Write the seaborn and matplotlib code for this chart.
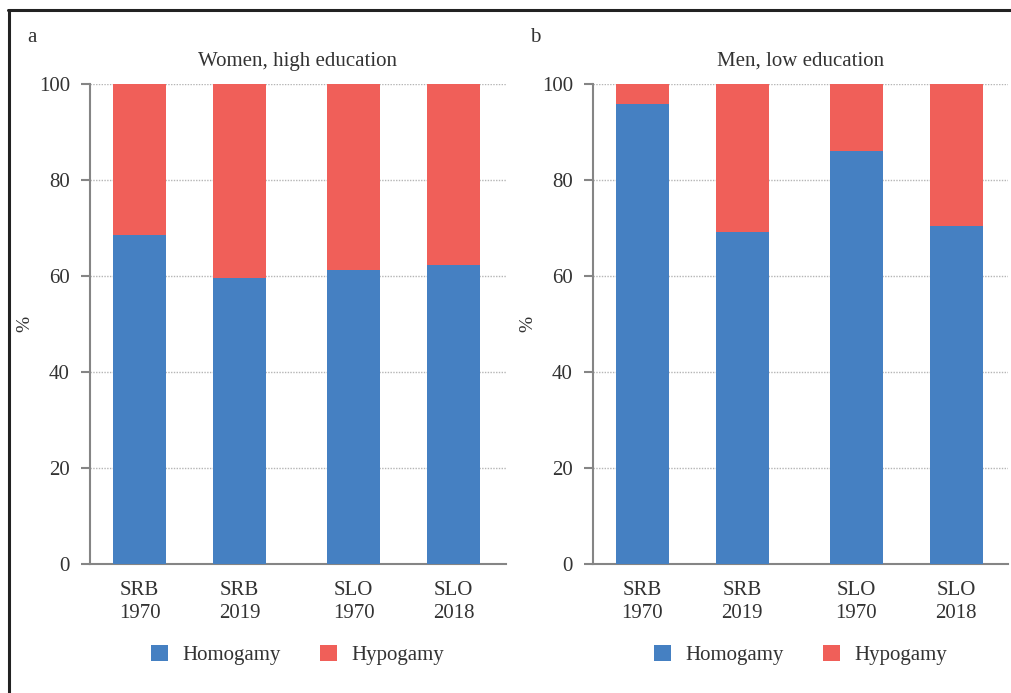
import matplotlib
matplotlib.use("Agg")
import matplotlib.pyplot as plt
from matplotlib.lines import Line2D
from matplotlib.patches import Patch
import pandas as pd
import seaborn as sns

# Groups: country / census year
groups = ["SRB\n1970", "SRB\n2019", "SLO\n1970", "SLO\n2018"]
# bar positions: a slightly wider gap separates the two countries
positions = [0.0, 1.0, 2.14, 3.14]

women_high_homogamy = [68.5, 59.6, 61.3, 62.3]
women_high_hypogamy = [31.5, 40.4, 38.7, 37.7]

men_low_homogamy = [95.9, 69.2, 86.0, 70.5]
men_low_hypogamy = [4.4, 31.1, 14.3, 29.5]

panel_titles = ["Women, high education", "Men, low education"]
panel_letters = ["a", "b"]
series_names = ["Homogamy", "Hypogamy"]
y_ticks = [0, 20, 40, 60, 80, 100]

BLUE = "#4580C2"
RED = "#F05F59"
TEXT = "#333333"
SPINE = "#858585"
FS = 15

sns.set_theme(style="white")
plt.rcParams["font.family"] = ["Liberation Serif", "DejaVu Serif"]
plt.rcParams["text.color"] = TEXT
plt.rcParams["axes.labelcolor"] = TEXT
plt.rcParams["xtick.color"] = TEXT
plt.rcParams["ytick.color"] = TEXT

fig = plt.figure(figsize=(10.11, 6.93), dpi=100)
W, H = 1011, 693

def px_axes(x0, x1, ytop, ybot):
    return fig.add_axes([x0 / W, 1 - ybot / H, (x1 - x0) / W, (ybot - ytop) / H])

ax_a = px_axes(90, 505.5, 84, 564)
ax_b = px_axes(593, 1008, 84, 564)

panels = [
    (ax_a, women_high_homogamy, women_high_hypogamy, 90),
    (ax_b, men_low_homogamy, men_low_hypogamy, 593),
]

for i, (ax, homo, hypo, x_left) in enumerate(panels):
    total = [h + y for h, y in zip(homo, hypo)]
    df = pd.DataFrame({"pos": positions, "homogamy": homo, "total": total})

    # red stack (full height) first, then the homogamy share over it
    sns.barplot(data=df, x="pos", y="total", native_scale=True, color=RED,
                saturation=1, width=0.53, ax=ax, errorbar=None, zorder=2,
                linewidth=0)
    sns.barplot(data=df, x="pos", y="homogamy", native_scale=True, color=BLUE,
                saturation=1, width=0.53, ax=ax, errorbar=None, zorder=3,
                linewidth=0)

    ax.set_xlim(-0.495, 3.66)
    ax.set_ylim(0, 100)
    ax.set_yticks(y_ticks)
    ax.set_yticklabels([str(t) for t in y_ticks], fontsize=FS)
    ax.set_xticks(positions)
    ax.set_xticklabels(groups, fontsize=FS, linespacing=1.3)
    ax.set_xlabel("")
    ax.set_ylabel("%", fontsize=14)
    ax.yaxis.set_label_coords(-57 / 415.5, 0.5)

    ax.yaxis.grid(True, linestyle=(0, (1, 1)), color="#b5b5b5", linewidth=1.0, zorder=0)
    ax.set_axisbelow(True)

    for side in ["top", "right"]:
        ax.spines[side].set_visible(False)
    for side in ["left", "bottom"]:
        ax.spines[side].set_color(SPINE)
        ax.spines[side].set_linewidth(1.5)

    ax.tick_params(axis="y", direction="out", length=6.5, width=1.5,
                   color=SPINE, pad=8, left=True)
    ax.tick_params(axis="x", length=0, pad=12)

    ax.set_title(panel_titles[i], fontsize=FS, color=TEXT, pad=13)
    fig.text((x_left - 63) / W, 1 - 38 / H, panel_letters[i], fontsize=FS,
             color=TEXT, ha="left", va="center")

    handles = [Patch(facecolor=BLUE, edgecolor="none"),
               Patch(facecolor=RED, edgecolor="none")]
    ax.legend(handles, series_names, loc="center", bbox_to_anchor=(0.5, -0.19),
              ncol=2, frameon=False, fontsize=FS, handlelength=0.8,
              handleheight=0.75, handletextpad=0.7, columnspacing=1.9)

# frame lines along the top and left edges
fig.add_artist(Line2D([8 / W, 1.0], [1 - 10 / H, 1 - 10 / H], color="#222222",
                      linewidth=2.2, transform=fig.transFigure))
fig.add_artist(Line2D([9 / W, 9 / W], [0.0, 1 - 10 / H], color="#222222",
                      linewidth=2.2, transform=fig.transFigure))

fig.savefig("out.png", dpi=100, facecolor="white")
